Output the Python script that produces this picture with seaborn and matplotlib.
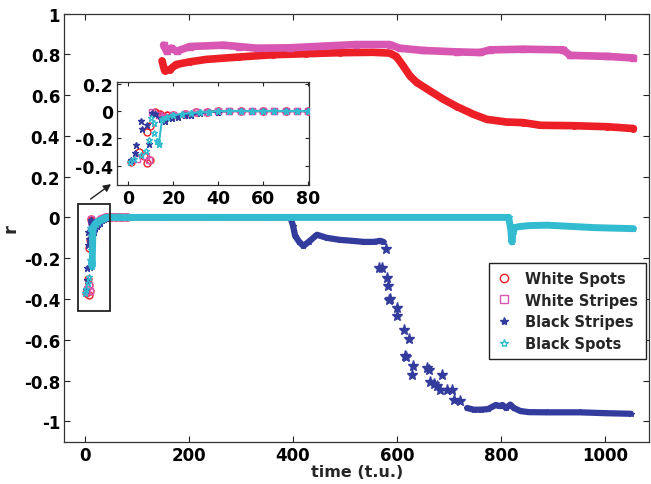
import numpy as np
import matplotlib
matplotlib.use("Agg")
import matplotlib.pyplot as plt
import seaborn as sns
from matplotlib.patches import Rectangle, FancyArrowPatch
from matplotlib.lines import Line2D

# ---------------- data ----------------
series_names = ["White Spots", "White Stripes", "Black Stripes", "Black Spots"]

# early transient (t.u. 0-80)
ws_early_t = [1, 4.7, 6.9, 8.4, 9.8, 8.4, 9.8, 12, 14, 17, 20, 25, 30, 35, 40, 50, 60, 70, 80]
ws_early_r = [-0.37, -0.30, -0.33, -0.378, -0.36, -0.15, -0.11, -0.01, -0.02, -0.03, -0.03, -0.02,
              -0.01, -0.005, 0, 0, 0, 0, 0]
wst_early_t = [4, 7.7, 9, 10.6, 13.5, 16, 20, 25, 30, 35, 40, 45, 50, 55, 60, 65, 70, 75, 80]
wst_early_r = [-0.35, -0.33, -0.36, -0.01, -0.03, -0.04, -0.03, -0.02, -0.01, -0.005, 0, 0, 0,
               0.002, 0.002, 0, 0, 0, 0]
bst_early_t = [1, 2.9, 3.3, 5.5, 6.2, 8.4, 9.1, 10.6, 12, 14.3, 16.5, 19.4, 22, 25, 28, 32, 36,
               40, 45, 50, 55, 60, 65, 70, 75, 80]
bst_early_r = [-0.354, -0.305, -0.25, -0.073, -0.134, -0.105, -0.244, -0.012, -0.02, -0.061, -0.07,
               -0.048, -0.04, -0.03, -0.025, -0.015, -0.008, -0.003, 0, 0, 0, 0, 0, 0, 0, 0]
bsp_early_t = [0.5, 2.5, 5.5, 7.7, 9.1, 10, 11.4, 11.4, 12.8, 13.5, 15, 17, 20, 24, 28, 32, 36,
               40, 45, 50, 55, 60, 65, 70, 75, 80]
bsp_early_r = [-0.37, -0.35, -0.32, -0.29, -0.21, -0.05, -0.16, -0.09, -0.22, -0.24, -0.06, -0.04,
               -0.03, -0.02, -0.015, -0.01, -0.005, 0, 0, 0.002, 0, 0, 0.002, 0, 0, 0]

# later evolution
ws_t = [148, 153, 163, 175, 201, 233, 297, 361, 425, 490, 554, 586, 599, 612, 625, 638, 664, 689,
        715, 747, 773, 811, 843, 876, 940, 1004, 1055]
ws_r = [0.768, 0.72, 0.725, 0.75, 0.763, 0.775, 0.787, 0.798, 0.803, 0.808, 0.81, 0.806, 0.789,
        0.743, 0.694, 0.662, 0.62, 0.58, 0.544, 0.506, 0.481, 0.468, 0.465, 0.452, 0.45, 0.445, 0.436]
wst_t = [151, 157, 166, 176, 201, 265, 297, 330, 394, 458, 522, 586, 605, 650, 715, 760, 779, 843,
         920, 933, 1004, 1055]
wst_r = [0.845, 0.815, 0.83, 0.815, 0.838, 0.845, 0.838, 0.83, 0.832, 0.84, 0.848, 0.848, 0.83,
         0.819, 0.812, 0.809, 0.822, 0.825, 0.822, 0.795, 0.79, 0.782]
bst_t = [80, 150, 250, 350, 395, 400, 404, 412, 420, 430, 446, 465, 490, 515, 536, 555, 568, 574]
bst_r = [0, 0, 0, 0, 0, -0.04, -0.09, -0.12, -0.14, -0.12, -0.085, -0.10, -0.11, -0.115, -0.12,
         -0.12, -0.115, -0.12]
bst_drop_t = [578, 565, 571, 581, 582, 584, 587, 600, 601, 614, 624, 616, 618, 631, 629, 658, 661,
              664, 671, 687, 677, 683, 696, 706, 709, 722]
bst_drop_r = [-0.157, -0.247, -0.25, -0.296, -0.337, -0.403, -0.40, -0.444, -0.485, -0.55, -0.596,
              -0.681, -0.685, -0.73, -0.771, -0.74, -0.75, -0.809, -0.815, -0.771, -0.828, -0.845,
              -0.848, -0.848, -0.894, -0.90]
bst_tail_t = [735, 748, 761, 775, 790, 797, 803, 810, 818, 825, 838, 854, 889, 953, 1000, 1050]
bst_tail_r = [-0.935, -0.943, -0.943, -0.94, -0.92, -0.925, -0.92, -0.935, -0.918, -0.935, -0.95,
              -0.955, -0.956, -0.956, -0.96, -0.963]
bsp_t = [80, 150, 250, 350, 450, 550, 650, 750, 815, 819, 821, 823, 826, 835, 855, 889, 920, 950,
         980, 1010, 1040, 1055]
bsp_r = [0, 0, 0, 0, 0, 0, 0, 0, 0, -0.06, -0.12, -0.08, -0.05, -0.045, -0.04, -0.038, -0.042,
         -0.046, -0.05, -0.052, -0.054, -0.055]

x_ticks = [0, 200, 400, 600, 800, 1000]
y_ticks = [-1, -0.8, -0.6, -0.4, -0.2, 0, 0.2, 0.4, 0.6, 0.8, 1]
y_ticklabels = ["-1", "-0.8", "-0.6", "-0.4", "-0.2", "0", "0.2", "0.4", "0.6", "0.8", "1"]
inset_x_ticks = [0, 20, 40, 60, 80]
inset_y_ticks = [-0.4, -0.2, 0, 0.2]
inset_y_ticklabels = ["-0.4", "-0.2", "0", "0.2"]

# ---------------- style ----------------
sns.set_style("ticks")
plt.rcParams["font.family"] = ["DejaVu Sans"]
plt.rcParams["font.weight"] = "bold"
plt.rcParams["axes.labelweight"] = "bold"

RED = "#ec1f27"
PINK = "#d857b2"
BLUE = "#333b9c"
CYAN = "#33bccf"

styles = {
    "White Spots": dict(color=RED, marker="o", mfc="none", ms=6, lw=5.5),
    "White Stripes": dict(color=PINK, marker="s", mfc="none", ms=5.5, lw=5.5),
    "Black Stripes": dict(color=BLUE, marker="*", mfc=BLUE, ms=7, lw=4.5),
    "Black Spots": dict(color=CYAN, marker="*", mfc="none", ms=7, lw=5.0),
}

fig = plt.figure(figsize=(6.51, 4.85), dpi=100)
ax = fig.add_axes([0.0988, 0.0872, 0.8982, 0.8828])


def draw_band(a, t, r, name, lw=None, ms=None, z=2):
    st = styles[name]
    sns.lineplot(x=t, y=r, ax=a, estimator=None, sort=False, color=st["color"],
                 linewidth=st["lw"] if lw is None else lw, marker=st["marker"],
                 markersize=st["ms"] if ms is None else ms, markerfacecolor=st["mfc"],
                 markeredgecolor=st["color"], markeredgewidth=1.0,
                 solid_capstyle="round", solid_joinstyle="round", zorder=z, legend=False)


def draw_points(a, t, r, name, ms=None, z=3):
    st = styles[name]
    sns.lineplot(x=t, y=r, ax=a, estimator=None, sort=False, color=st["color"],
                 linestyle="none", marker=st["marker"],
                 markersize=st["ms"] if ms is None else ms, markerfacecolor=st["mfc"],
                 markeredgecolor=st["color"], markeredgewidth=1.0, zorder=z, legend=False)


early = {
    "White Spots": (ws_early_t, ws_early_r),
    "White Stripes": (wst_early_t, wst_early_r),
    "Black Stripes": (bst_early_t, bst_early_r),
    "Black Spots": (bsp_early_t, bsp_early_r),
}

# main axes
for k, name in enumerate(series_names):
    t, r = early[name]
    t = np.asarray(t); r = np.asarray(r)
    settled = t >= 12
    draw_points(ax, t, r, name, ms=5, z=3 + k)
    draw_band(ax, t[settled], r[settled], name, ms=3.5, z=3 + k)

draw_band(ax, ws_t, ws_r, "White Spots", ms=4, z=3)
draw_band(ax, wst_t, wst_r, "White Stripes", ms=4, z=4)
draw_band(ax, bst_t, bst_r, "Black Stripes", ms=4, z=5)
draw_points(ax, bst_drop_t, bst_drop_r, "Black Stripes", ms=8, z=5)
draw_band(ax, bst_tail_t, bst_tail_r, "Black Stripes", ms=4, z=5)
draw_band(ax, bsp_t, bsp_r, "Black Spots", ms=4, z=6)

ax.set_xlim(-40, 1085)
ax.set_ylim(-1.1, 1.0)
ax.set_xticks(x_ticks)
ax.set_yticks(y_ticks)
ax.set_yticklabels(y_ticklabels)
ax.tick_params(direction="in", length=4, width=0.8, top=True, right=True, labelsize=12,
               pad=3, colors="#222222", labelcolor="black")
for s in ax.spines.values():
    s.set_visible(True)
    s.set_color("#333333")
    s.set_linewidth(0.9)
ax.set_xlabel("time (t.u.)", fontsize=11.5, fontweight="bold", labelpad=0)
ax.set_ylabel("r", fontsize=13, fontweight="bold", labelpad=3)

# zoom rectangle
ax.add_patch(Rectangle((-13, -0.457), 60, 0.524, fill=False, edgecolor="#222222", lw=1.3, zorder=10))

# legend
handles = [Line2D([], [], linestyle="none", marker=styles[n]["marker"], color=styles[n]["color"],
                  markerfacecolor=styles[n]["mfc"], markeredgecolor=styles[n]["color"],
                  markersize=6, markeredgewidth=1.0) for n in series_names]
leg = ax.legend(handles, series_names, loc="upper left", bbox_to_anchor=(0.751, 0.4557),
                bbox_transform=fig.transFigure, frameon=True, fancybox=False, framealpha=1,
                edgecolor="#222222", prop={"weight": "bold", "size": 10.5},
                handlelength=1.0, handletextpad=0.9, labelspacing=0.45, borderpad=0.55,
                borderaxespad=0)
leg.get_frame().set_linewidth(1.0)
leg.set_zorder(20)

# inset
axi = fig.add_axes([0.180, 0.6165, 0.295, 0.213])
for k, name in enumerate(series_names):
    t, r = early[name]
    t = np.asarray(t); r = np.asarray(r)
    settled = t >= 12
    draw_band(axi, t[settled], r[settled], name, lw=1.5, ms=4.5, z=3 + k)
    draw_points(axi, t, r, name, ms=5, z=3 + k)
axi.set_xlim(-5, 80.5)
axi.set_ylim(-0.54, 0.215)
axi.set_xticks(inset_x_ticks)
axi.set_yticks(inset_y_ticks)
axi.set_yticklabels(inset_y_ticklabels)
axi.tick_params(direction="in", length=3, width=0.8, top=True, right=True, labelsize=12.5,
                pad=3, colors="#222222", labelcolor="black")
for s in axi.spines.values():
    s.set_visible(True)
    s.set_color("#333333")
    s.set_linewidth(0.9)
axi.set_xlabel("")
axi.set_ylabel("")

# arrow from rectangle to inset
arr = FancyArrowPatch((88.3 / 651, 1 - 201.7 / 485), (113.3 / 651, 1 - 183.5 / 485),
                      transform=fig.transFigure, arrowstyle="-|>", mutation_scale=11,
                      color="#222222", lw=1.0)
fig.add_artist(arr)

fig.savefig("out.png", dpi=100)
